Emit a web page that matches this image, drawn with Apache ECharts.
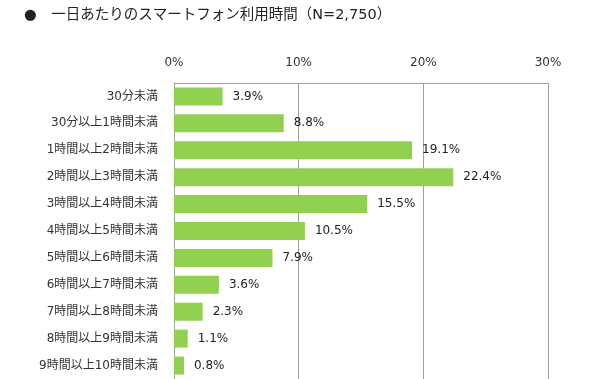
<!DOCTYPE html>
<html>
<head>
<meta charset="utf-8">
<script src="https://cdn.jsdelivr.net/npm/echarts@6/dist/echarts.min.js"></script>
<style>html,body{margin:0;padding:0;background:#fff}#c{width:598px;height:379px}</style>
</head>
<body>
<div id="c"></div>
<script>
var categories = ['30分未満','30分以上1時間未満','1時間以上2時間未満','2時間以上3時間未満','3時間以上4時間未満','4時間以上5時間未満','5時間以上6時間未満','6時間以上7時間未満','7時間以上8時間未満','8時間以上9時間未満','9時間以上10時間未満'];
var values = [3.9, 8.8, 19.1, 22.4, 15.5, 10.5, 7.9, 3.6, 2.3, 1.1, 0.8];
var xTicks = [0, 10, 20, 30];
var titleText = '●　一日あたりのスマートフォン利用時間（N=2,750）';

var font = "'DejaVu Sans', 'Noto Sans CJK JP', sans-serif";
var chart = echarts.init(document.getElementById('c'));
chart.setOption({
  animation: false,
  backgroundColor: '#fff',
  title: {
    text: titleText,
    left: 19, top: 3,
    textStyle: {fontSize: 14.5, fontWeight: 'normal', color: '#222', fontFamily: font}
  },
  grid: {left: 174, right: 50, top: 83, bottom: -5, containLabel: false},
  xAxis: {
    type: 'value', position: 'top', min: xTicks[0], max: xTicks[xTicks.length-1], interval: 10,
    axisLine: {show: true, lineStyle: {color: '#a0a0a0', width: 1}},
    axisTick: {show: false},
    splitLine: {show: true, lineStyle: {color: '#a0a0a0', width: 1}},
    axisLabel: {formatter: '{value}%', fontSize: 12, color: '#333', fontFamily: font, margin: 14}
  },
  yAxis: {
    type: 'category', data: categories, inverse: true,
    axisLine: {show: true, lineStyle: {color: '#a0a0a0', width: 1}},
    axisTick: {show: false},
    axisLabel: {fontSize: 12, color: '#333', fontFamily: font, margin: 16}
  },
  series: [{
    type: 'bar', data: values, barWidth: 18,
    itemStyle: {color: '#92D050'},
    label: {show: true, position: 'right', distance: 10, fontSize: 12, color: '#222', fontFamily: font,
      formatter: function(p){ return p.value.toFixed(1) + '%'; }}
  }]
});
</script>
</body>
</html>
